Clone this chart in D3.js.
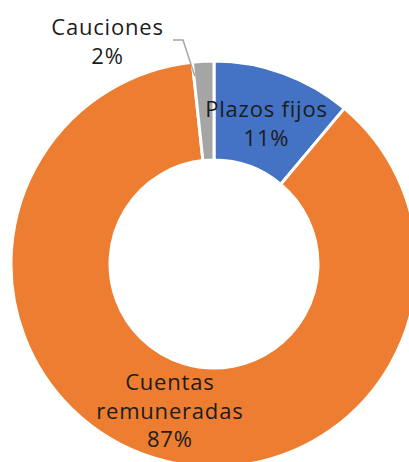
<!DOCTYPE html>
<html>
<head>
<meta charset="utf-8">
<script src="https://cdn.jsdelivr.net/npm/d3@7"></script>
<style>
  body { margin: 0; background: #fff; }
  svg { display: block; }
  text { font-family: "Open Sans", Lato, sans-serif; fill: #1c1c1c; }
</style>
</head>
<body>
<div id="chart"></div>
<script>
// data
var categories = ["Plazos fijos", "Cuentas remuneradas", "Cauciones"];
var shares = [11.1, 87.2, 1.7];
var labelLines = [["Plazos fijos"], ["Cuentas", "remuneradas"], ["Cauciones"]];
var colors = ["#4472C4", "#ED7D31", "#A5A5A5"];

var Width = 409, Height = 462;
var cx = 214, cy = 264;
var OuterR = 203, InnerR = 104;
var FontSize = 22, LineGap = 28.5;

var data = categories.map(function (c, i) {
    return { name: c, value: shares[i], lines: labelLines[i], color: colors[i] };
});

var svg = d3.select("#chart").append("svg")
    .attr("width", Width)
    .attr("height", Height);

var g = svg.append("g").attr("transform", "translate(" + cx + "," + cy + ")");

var pie = d3.pie().sort(null).value(function (d) { return d.value; });
var arc = d3.arc().innerRadius(InnerR).outerRadius(OuterR);
var arcs = pie(data);

g.selectAll("path.slice")
    .data(arcs)
    .enter()
    .append("path")
    .attr("class", "slice")
    .attr("d", arc)
    .style("fill", function (d) { return d.data.color; })
    .style("stroke", "#fff")
    .style("stroke-width", 3);

var pct = function (v) { return Math.round(v) + "%"; };

// labels inside the ring (plazos fijos, cuentas)
function drawLabel(lines, x, y) {
    var t = g.append("text")
        .attr("text-anchor", "middle")
        .style("font-size", FontSize + "px")
        .style("letter-spacing", "0.8px");
    var top = y - (lines.length - 1) * LineGap / 2;
    lines.forEach(function (l, i) {
        t.append("tspan")
            .attr("x", x + 0.5)
            .attr("y", top + i * LineGap)
            .attr("dy", "0.35em")
            .text(l);
    });
}

arcs.forEach(function (d, i) {
    var lines = d.data.lines.concat([pct(d.value)]);
    if (i == 2) {
        // cauciones goes outside with a leader
        var lx = -107, ly = -222;
        drawLabel(lines, lx, ly);
        var edge = d3.arc().innerRadius(OuterR - 14).outerRadius(OuterR - 14)
            .centroid({ startAngle: d.startAngle + 0.005, endAngle: d.startAngle + 0.005 });
        var p = d3.path();
        p.moveTo(lx + 66, ly - 2);
        p.lineTo(lx + 76, ly - 2);
        p.lineTo(edge[0], edge[1]);
        g.append("path")
            .attr("d", p.toString())
            .style("fill", "none")
            .style("stroke", "#A5A5A5")
            .style("stroke-width", 1.5);
    } else {
        var c = arc.centroid(d);
        if (i == 0) { c = [c[0] - 0.5, c[1] + 4]; }
        drawLabel(lines, c[0], c[1]);
    }
});
</script>
</body>
</html>
